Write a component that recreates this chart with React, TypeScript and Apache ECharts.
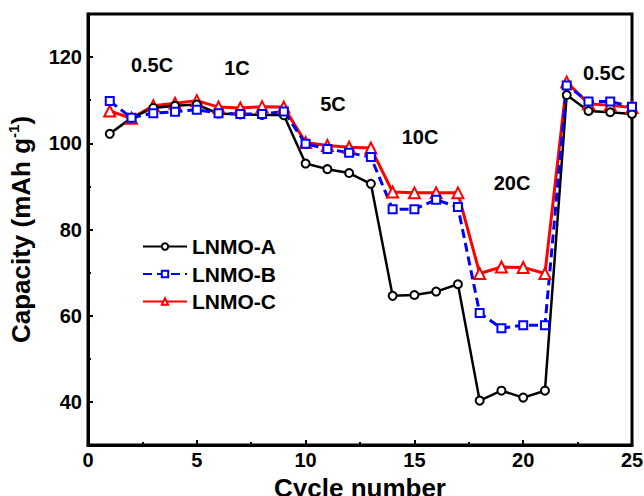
import React, { useEffect, useRef } from "react";
import * as echarts from "echarts";

const cycles = [1, 2, 3, 4, 5, 6, 7, 8, 9, 10, 11, 12, 13, 14, 15, 16, 17, 18, 19, 20, 21, 22, 23, 24, 25];
const lnmoA = [102.2, 105.9, 108.2, 108.7, 109.0, 106.9, 106.7, 106.6, 106.5, 95.3, 94.0, 93.1, 90.6, 64.6, 64.8, 65.6, 67.3, 40.3, 42.6, 41.0, 42.6, 111.2, 107.5, 107.2, 106.8];
const lnmoB = [109.8, 105.9, 107.0, 107.3, 107.8, 107.0, 106.8, 106.8, 107.4, 99.9, 98.7, 97.8, 96.8, 84.7, 84.7, 86.9, 85.2, 60.6, 57.1, 57.8, 57.8, 113.4, 109.7, 109.7, 108.5];
const lnmoC = [107.5, 105.8, 108.7, 109.3, 109.9, 108.4, 108.2, 108.5, 108.4, 100.2, 99.5, 99.1, 98.9, 88.7, 88.5, 88.5, 88.5, 69.8, 71.3, 71.2, 69.8, 114.2, 109.2, 108.8, 108.3];
const seriesNames = ["LNMO-A", "LNMO-B", "LNMO-C"];
const xTicks = [0, 5, 10, 15, 20, 25];
const yMajorTicks = [40, 60, 80, 100, 120];
const rateLabels = ["0.5C", "1C", "5C", "10C", "20C", "0.5C"];

const FONT = '"Liberation Sans", Arial, sans-serif';

export default function App() {
  const ref = useRef<HTMLDivElement>(null);
  useEffect(() => {
    if (!ref.current) return;
    const chart = echarts.init(ref.current, null, { renderer: "svg" });
    const pairs = (vals: number[]) => vals.map((v, i) => [cycles[i], v]);
    const labelPos = [
      [152, 65],
      [237, 68],
      [333, 104],
      [420, 137],
      [512, 183],
      [604, 73],
    ];
    chart.setOption({
      animation: false,
      backgroundColor: "#fff",
      grid: {
        left: 88,
        top: 14,
        right: 12,
        bottom: 51,
        outerBoundsMode: "none",
        containLabel: false,
        show: true,
        borderColor: "#000",
        borderWidth: 3,
        backgroundColor: "transparent",
      },
      legend: {
        orient: "vertical",
        left: 137,
        top: 231,
        itemWidth: 44,
        itemHeight: 8,
        itemGap: 6.5,
        data: seriesNames,
        textStyle: {
          fontFamily: FONT,
          fontWeight: "bold",
          fontSize: 21,
          lineHeight: 21,
          color: "#000",
        },
      },
      xAxis: {
        type: "value",
        min: xTicks[0],
        max: xTicks[xTicks.length - 1],
        interval: 5,
        name: "Cycle number",
        nameLocation: "middle",
        nameGap: 23,
        nameTextStyle: { fontFamily: FONT, fontWeight: "bold", fontSize: 26, color: "#000" },
        axisLine: { lineStyle: { color: "#000", width: 3 } },
        axisTick: { inside: true, length: 5, lineStyle: { color: "#000", width: 2 } },
        minorTick: { show: true, splitNumber: 2, length: 3, lineStyle: { color: "#000", width: 2 } },
        splitLine: { show: false },
        axisLabel: { fontFamily: FONT, fontWeight: "bold", fontSize: 20, color: "#000", margin: 5 },
      },
      yAxis: [
        {
          type: "value",
          min: 30,
          max: 130,
          interval: 10,
          name: "Capacity (mAh g{sup|-1})",
          nameLocation: "middle",
          nameRotate: 90,
          nameGap: 52,
          nameTextStyle: {
            fontFamily: FONT,
            fontWeight: "bold",
            fontSize: 26,
            color: "#000",
            lineHeight: 30,
            rich: {
              sup: {
                fontFamily: FONT,
                fontWeight: "bold",
                fontSize: 15,
                lineHeight: 16,
                verticalAlign: "top",
                color: "#000",
              },
            },
          },
          axisLine: { lineStyle: { color: "#000", width: 3 } },
          axisTick: { inside: true, length: 3, lineStyle: { color: "#000", width: 2 } },
          splitLine: { show: false },
          axisLabel: {
            fontFamily: FONT,
            fontWeight: "bold",
            fontSize: 20,
            color: "#000",
            margin: 6,
            formatter: (v: number) => (yMajorTicks.indexOf(v) >= 0 ? String(v) : ""),
          },
        },
        {
          type: "value",
          min: 30,
          max: 130,
          interval: 10,
          position: "left",
          axisLine: { show: false },
          axisLabel: { show: false },
          splitLine: { show: false },
          axisTick: {
            inside: true,
            length: 5,
            customValues: yMajorTicks,
            lineStyle: { color: "#000", width: 2 },
          },
        },
      ],
      graphic: rateLabels.map((t, i) => ({
        type: "text",
        x: labelPos[i][0],
        y: labelPos[i][1],
        silent: true,
        style: {
          text: t,
          font: `bold 20px ${FONT}`,
          fill: "#000",
          textAlign: "center",
          textVerticalAlign: "middle",
        },
      })),
      series: [
        {
          name: seriesNames[2],
          type: "line",
          data: pairs(lnmoC),
          symbol: "triangle",
          symbolSize: 11,
          lineStyle: { color: "#ff0000", width: 3 },
          itemStyle: { color: "#fff", borderColor: "#ff0000", borderWidth: 2 },
          emphasis: { disabled: true },
        },
        {
          name: seriesNames[0],
          type: "line",
          data: pairs(lnmoA),
          symbol: "circle",
          symbolSize: 8,
          lineStyle: { color: "#000", width: 2.5 },
          itemStyle: { color: "#fff", borderColor: "#000", borderWidth: 2 },
          emphasis: { disabled: true },
        },
        {
          name: seriesNames[1],
          type: "line",
          data: pairs(lnmoB),
          symbol: "rect",
          symbolSize: 8,
          lineStyle: { color: "#0000ff", width: 3, type: [9, 5] },
          itemStyle: { color: "#fff", borderColor: "#0000ff", borderWidth: 2 },
          emphasis: { disabled: true },
        },
      ],
    });
    return () => chart.dispose();
  }, []);
  return (
    <div
      ref={ref}
      style={{ position: "fixed", left: 0, top: 0, width: 644, height: 496, background: "#fff" }}
    />
  );
}
